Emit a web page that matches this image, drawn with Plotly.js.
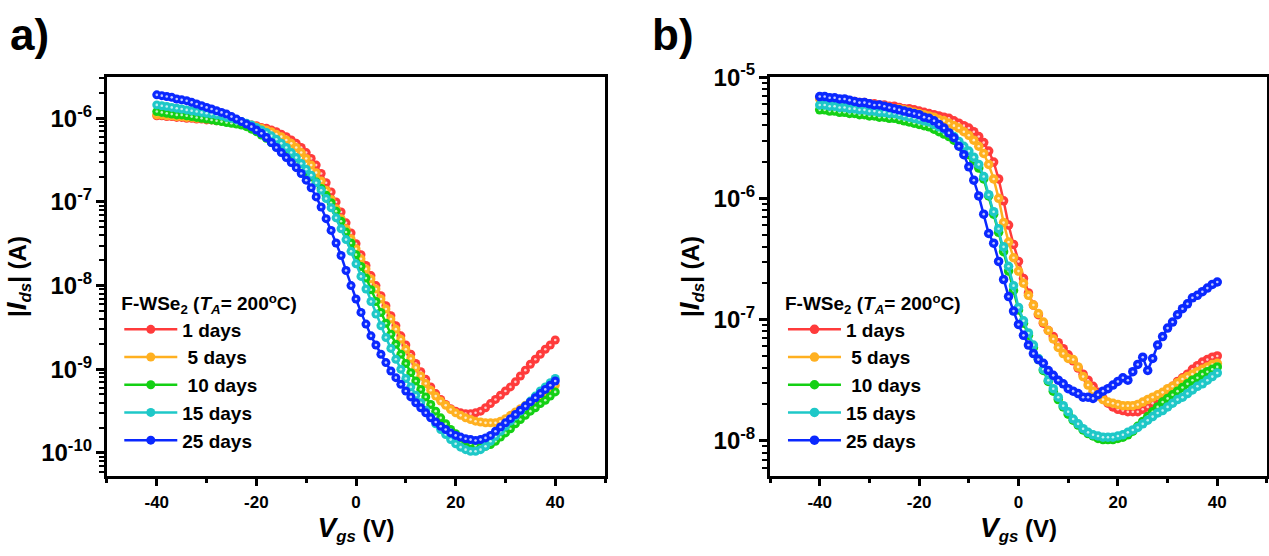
<!DOCTYPE html>
<html><head><meta charset="utf-8">
<script src="https://cdn.plot.ly/plotly-3.0.1.min.js"></script>
<style>html,body{margin:0;padding:0;background:#fff}#chart{width:1269px;height:556px}</style>
</head><body><div id="chart"></div>
<script>
// Gate voltage (V)
const vgs = [-40,-39,-38,-37,-36,-35,-34,-33,-32,-31,-30,-29,-28,-27,-26,-25,-24,-23,-22,-21,
-20,-19,-18,-17,-16,-15,-14,-13,-12,-11,-10,-9,-8,-7,-6,-5,-4,-3,-2,-1,
0,1,2,3,4,5,6,7,8,9,10,11,12,13,14,15,16,17,18,19,
20,21,22,23,24,25,26,27,28,29,30,31,32,33,34,35,36,37,38,39,40];

const seriesNames = ['1 days', '\u00a05 days', '\u00a010 days', '15 days', '25 days'];

// log10(|Ids| / A), panel a
const a_log_1d = [-5.97,-5.97,-5.98,-5.98,-5.99,-5.99,-6.00,-6.00,-6.01,-6.01,-6.02,-6.02,-6.03,-6.03,-6.04,-6.05,-6.06,-6.06,-6.07,-6.08,
-6.09,-6.11,-6.12,-6.14,-6.16,-6.19,-6.22,-6.26,-6.30,-6.35,-6.41,-6.48,-6.56,-6.66,-6.77,-6.88,-7.00,-7.12,-7.25,-7.37,
-7.50,-7.63,-7.76,-7.88,-8.00,-8.12,-8.24,-8.36,-8.48,-8.60,-8.71,-8.82,-8.93,-9.03,-9.12,-9.21,-9.29,-9.36,-9.42,-9.47,
-9.50,-9.52,-9.53,-9.53,-9.52,-9.50,-9.46,-9.41,-9.36,-9.31,-9.26,-9.21,-9.15,-9.08,-9.01,-8.94,-8.88,-8.82,-8.76,-8.71,-8.65];
const a_log_5d = [-5.96,-5.96,-5.97,-5.97,-5.98,-5.98,-5.99,-5.99,-6.00,-6.00,-6.01,-6.01,-6.02,-6.03,-6.03,-6.04,-6.05,-6.06,-6.07,-6.08,
-6.10,-6.12,-6.14,-6.16,-6.19,-6.22,-6.26,-6.30,-6.35,-6.41,-6.48,-6.56,-6.65,-6.75,-6.86,-6.97,-7.08,-7.20,-7.32,-7.44,
-7.56,-7.68,-7.80,-7.92,-8.04,-8.16,-8.28,-8.40,-8.52,-8.64,-8.76,-8.87,-8.98,-9.08,-9.17,-9.25,-9.32,-9.38,-9.43,-9.48,
-9.52,-9.55,-9.58,-9.60,-9.62,-9.63,-9.64,-9.64,-9.64,-9.62,-9.59,-9.55,-9.51,-9.47,-9.43,-9.39,-9.35,-9.31,-9.27,-9.23,-9.19];
const a_log_10d = [-5.92,-5.93,-5.94,-5.95,-5.96,-5.96,-5.97,-5.98,-5.99,-6.00,-6.01,-6.02,-6.03,-6.04,-6.05,-6.06,-6.07,-6.08,-6.10,-6.13,
-6.16,-6.20,-6.24,-6.29,-6.34,-6.39,-6.44,-6.49,-6.54,-6.59,-6.64,-6.70,-6.76,-6.84,-6.92,-7.01,-7.11,-7.23,-7.36,-7.49,
-7.63,-7.77,-7.91,-8.05,-8.19,-8.32,-8.45,-8.58,-8.70,-8.82,-8.93,-9.04,-9.14,-9.24,-9.33,-9.42,-9.50,-9.58,-9.65,-9.72,
-9.77,-9.82,-9.86,-9.89,-9.91,-9.92,-9.92,-9.90,-9.86,-9.81,-9.76,-9.71,-9.65,-9.60,-9.55,-9.50,-9.46,-9.41,-9.37,-9.32,-9.27];
const a_log_15d = [-5.84,-5.85,-5.86,-5.87,-5.88,-5.89,-5.90,-5.91,-5.92,-5.93,-5.94,-5.95,-5.96,-5.97,-5.99,-6.00,-6.02,-6.04,-6.06,-6.08,
-6.11,-6.14,-6.17,-6.21,-6.25,-6.30,-6.35,-6.41,-6.47,-6.54,-6.61,-6.68,-6.77,-6.86,-6.96,-7.07,-7.19,-7.32,-7.45,-7.59,
-7.74,-7.89,-8.04,-8.19,-8.34,-8.48,-8.62,-8.75,-8.88,-9.00,-9.11,-9.21,-9.31,-9.40,-9.49,-9.57,-9.65,-9.72,-9.78,-9.84,
-9.89,-9.93,-9.96,-9.98,-9.98,-9.96,-9.92,-9.86,-9.80,-9.74,-9.68,-9.62,-9.56,-9.50,-9.44,-9.38,-9.32,-9.26,-9.21,-9.16,-9.11];
const a_log_25d = [-5.72,-5.73,-5.74,-5.75,-5.77,-5.78,-5.79,-5.81,-5.83,-5.85,-5.87,-5.89,-5.91,-5.93,-5.95,-5.98,-6.01,-6.04,-6.07,-6.10,
-6.14,-6.18,-6.23,-6.29,-6.35,-6.41,-6.47,-6.53,-6.59,-6.66,-6.74,-6.83,-6.94,-7.06,-7.20,-7.34,-7.49,-7.64,-7.82,-8.00,
-8.16,-8.32,-8.46,-8.60,-8.71,-8.82,-8.92,-9.02,-9.10,-9.18,-9.26,-9.33,-9.40,-9.46,-9.52,-9.58,-9.63,-9.68,-9.72,-9.76,
-9.79,-9.81,-9.83,-9.84,-9.85,-9.84,-9.82,-9.79,-9.74,-9.69,-9.64,-9.59,-9.54,-9.49,-9.44,-9.39,-9.34,-9.29,-9.24,-9.19,-9.14];

// log10(|Ids| / A), panel b
const b_log_1d = [-5.17,-5.17,-5.18,-5.18,-5.19,-5.19,-5.20,-5.20,-5.21,-5.21,-5.22,-5.22,-5.23,-5.23,-5.24,-5.24,-5.25,-5.26,-5.26,-5.27,
-5.28,-5.29,-5.30,-5.31,-5.32,-5.33,-5.34,-5.36,-5.38,-5.40,-5.42,-5.45,-5.49,-5.54,-5.61,-5.70,-5.84,-6.02,-6.22,-6.38,
-6.52,-6.66,-6.78,-6.88,-6.96,-7.03,-7.09,-7.14,-7.19,-7.24,-7.29,-7.34,-7.40,-7.45,-7.50,-7.55,-7.60,-7.65,-7.69,-7.72,
-7.74,-7.75,-7.76,-7.76,-7.76,-7.74,-7.72,-7.69,-7.65,-7.62,-7.58,-7.55,-7.51,-7.48,-7.45,-7.41,-7.38,-7.35,-7.33,-7.31,-7.30];
const b_log_5d = [-5.18,-5.18,-5.19,-5.19,-5.20,-5.20,-5.21,-5.21,-5.22,-5.22,-5.23,-5.23,-5.24,-5.24,-5.25,-5.26,-5.26,-5.27,-5.28,-5.29,
-5.30,-5.31,-5.32,-5.33,-5.35,-5.36,-5.38,-5.40,-5.42,-5.45,-5.48,-5.52,-5.57,-5.63,-5.72,-5.84,-6.00,-6.20,-6.36,-6.49,
-6.60,-6.70,-6.80,-6.88,-6.95,-7.02,-7.09,-7.16,-7.23,-7.28,-7.32,-7.33,-7.39,-7.47,-7.54,-7.59,-7.63,-7.66,-7.68,-7.69,
-7.70,-7.71,-7.71,-7.71,-7.70,-7.68,-7.66,-7.64,-7.62,-7.60,-7.57,-7.55,-7.52,-7.49,-7.47,-7.45,-7.43,-7.41,-7.39,-7.37,-7.36];
const b_log_10d = [-5.27,-5.27,-5.28,-5.28,-5.29,-5.29,-5.30,-5.30,-5.31,-5.31,-5.32,-5.32,-5.33,-5.33,-5.34,-5.34,-5.35,-5.36,-5.37,-5.38,
-5.39,-5.40,-5.41,-5.43,-5.45,-5.47,-5.49,-5.52,-5.56,-5.60,-5.64,-5.69,-5.75,-5.84,-5.98,-6.13,-6.28,-6.44,-6.60,-6.76,
-6.92,-7.03,-7.13,-7.23,-7.33,-7.42,-7.51,-7.59,-7.66,-7.72,-7.78,-7.83,-7.87,-7.91,-7.94,-7.96,-7.98,-7.99,-7.99,-7.99,
-7.98,-7.97,-7.95,-7.92,-7.88,-7.84,-7.80,-7.76,-7.72,-7.68,-7.65,-7.62,-7.59,-7.56,-7.53,-7.50,-7.48,-7.45,-7.43,-7.41,-7.39];
const b_log_15d = [-5.23,-5.23,-5.24,-5.24,-5.25,-5.25,-5.26,-5.26,-5.27,-5.27,-5.28,-5.28,-5.29,-5.29,-5.30,-5.30,-5.31,-5.32,-5.33,-5.34,
-5.35,-5.36,-5.37,-5.39,-5.41,-5.43,-5.46,-5.49,-5.53,-5.57,-5.61,-5.66,-5.72,-5.82,-5.97,-6.11,-6.25,-6.40,-6.56,-6.72,
-6.90,-7.01,-7.11,-7.21,-7.32,-7.41,-7.50,-7.57,-7.64,-7.71,-7.76,-7.82,-7.86,-7.90,-7.93,-7.95,-7.96,-7.97,-7.97,-7.97,
-7.96,-7.95,-7.93,-7.91,-7.89,-7.86,-7.83,-7.80,-7.77,-7.75,-7.72,-7.69,-7.66,-7.64,-7.61,-7.58,-7.55,-7.53,-7.50,-7.47,-7.44];
const b_log_25d = [-5.16,-5.16,-5.17,-5.17,-5.18,-5.18,-5.19,-5.20,-5.21,-5.21,-5.22,-5.23,-5.23,-5.24,-5.25,-5.26,-5.27,-5.28,-5.29,-5.30,
-5.31,-5.33,-5.34,-5.36,-5.39,-5.42,-5.46,-5.50,-5.57,-5.64,-5.74,-5.85,-5.98,-6.13,-6.29,-6.37,-6.52,-6.67,-6.81,-6.93,
-7.04,-7.13,-7.21,-7.28,-7.33,-7.36,-7.42,-7.46,-7.50,-7.53,-7.57,-7.59,-7.61,-7.64,-7.64,-7.65,-7.62,-7.59,-7.57,-7.54,
-7.51,-7.48,-7.50,-7.43,-7.37,-7.31,-7.42,-7.32,-7.21,-7.14,-7.07,-7.02,-6.96,-6.91,-6.87,-6.82,-6.80,-6.77,-6.74,-6.71,-6.69];

// Tick labels
const xTickVals = [-40, -20, 0, 20, 40];
const xTickText = ['-40', '-20', '0', '20', '40'];
const xMinorVals = [-50, -30, -10, 10, 30, 50];
const yExponents = [-10, -9, -8, -7, -6, -5];
// decade labels shown with a plain hyphen, as in the figure
const yLabelAlias = {};
yExponents.forEach(p => { yLabelAlias['10<sup>\u2212' + (-p) + '</sup>'] = '10<sup>-' + (-p) + '</sup>'; });

const colors = ['#ff3b3b', '#ffb020', '#14d014', '#1ec8c8', '#0a28ff'];
const FONT = 'Liberation Sans, Arial, sans-serif';

const panelA = [a_log_1d, a_log_5d, a_log_10d, a_log_15d, a_log_25d];
const panelB = [b_log_1d, b_log_5d, b_log_10d, b_log_15d, b_log_25d];
const toCurrent = exps => exps.map(e => Math.pow(10, e));

const traces = [];
function addPanel(sets, xa, ya, lg, msize) {
  sets.forEach((exps, i) => {
    const y = toCurrent(exps);
    traces.push({
      type: 'scatter', mode: 'lines+markers', x: vgs, y: y, name: seriesNames[i],
      xaxis: xa, yaxis: ya, legend: lg,
      line: {color: colors[i], width: 2.5},
      marker: {color: colors[i], size: msize}
    });
    traces.push({
      type: 'scatter', mode: 'markers', x: vgs, y: y, showlegend: false, hoverinfo: 'skip',
      xaxis: xa, yaxis: ya,
      marker: {color: 'rgba(255,255,255,0.75)', size: 2.6}
    });
  });
}
addPanel(panelA, 'x', 'y', 'legend', 9);
addPanel(panelB, 'x2', 'y2', 'legend2', 9.5);

const common = {
  showline: true, linewidth: 3, linecolor: '#000', mirror: true,
  showgrid: false, zeroline: false, ticks: 'outside', tickcolor: '#000', tickwidth: 2.5
};
function xAxis(domain, anchor) {
  return Object.assign({}, common, {
    domain: domain, anchor: anchor, range: [-50, 50],
    tickmode: 'array', tickvals: xTickVals, ticktext: xTickText, ticklen: 7, ticklabelstandoff: 2,
    tickfont: {family: FONT, size: 17, weight: 'bold', color: '#000'},
    minor: {tickmode: 'array', tickvals: xMinorVals, ticks: 'outside', ticklen: 4, tickwidth: 2.5, tickcolor: '#000'},
    title: {text: '<i><span style="font-size:28px">V</span></i><sub><i>gs</i></sub>\u00a0(V)', font: {family: FONT, size: 24, weight: 'bold', color: '#000'}, standoff: 6}
  });
}
function yAxis(domain, anchor, range) {
  return Object.assign({}, common, {
    domain: domain, anchor: anchor, type: 'log', range: range,
    tickmode: 'linear', tick0: 0, dtick: 1, exponentformat: 'power', showexponent: 'all',
    labelalias: yLabelAlias, ticklen: 8,
    tickfont: {family: FONT, size: 19.2, weight: 'bold', color: '#000'},
    minor: {dtick: 'D1', ticks: 'outside', ticklen: 5, tickwidth: 2, tickcolor: '#000', showgrid: false},
    title: {text: '|<i><span style="font-size:28px">I</span></i><sub><i>ds</i></sub>| (A)', font: {family: FONT, size: 24, weight: 'bold', color: '#000'}, standoff: 8}
  });
}
function legendCfg(x) {
  return {
    x: x, y: 0.486, xref: 'paper', yref: 'paper', xanchor: 'left', yanchor: 'top',
    bgcolor: 'rgba(0,0,0,0)', borderwidth: 0, itemwidth: 53, tracegroupgap: 0,
    font: {family: FONT, size: 19, weight: 'bold', color: '#000'},
    title: {text: 'F-WSe<sub>2</sub> (<i>T</i><sub><i>A</i></sub>= 200<sup>o</sup>C)', font: {family: FONT, size: 19, weight: 'bold', color: '#000'}}
  };
}

const layout = {
  width: 1269, height: 556,
  margin: {l: 0, r: 0, t: 0, b: 0},
  paper_bgcolor: '#fff', plot_bgcolor: '#fff',
  showlegend: true,
  xaxis: xAxis([0.0843, 0.4768], 'y'),
  yaxis: yAxis([0.1439, 0.8615], 'x', [-10.275, -5.507]),
  xaxis2: xAxis([0.6068, 0.9984], 'y2'),
  yaxis2: yAxis([0.1439, 0.8615], 'x2', [-8.29, -4.999]),
  legend: legendCfg(0.094),
  legend2: legendCfg(0.617),
  annotations: [
    {text: 'a)', xref: 'paper', yref: 'paper', x: 8 / 1269, y: 1 - 8 / 556, xanchor: 'left', yanchor: 'top', showarrow: false,
     font: {family: FONT, size: 44, weight: 'bold', color: '#000'}},
    {text: 'b)', xref: 'paper', yref: 'paper', x: 650 / 1269, y: 1 - 8 / 556, xanchor: 'left', yanchor: 'top', showarrow: false,
     font: {family: FONT, size: 44, weight: 'bold', color: '#000'}}
  ]
};

Plotly.newPlot('chart', traces, layout, {displayModeBar: false});
</script>
</body></html>
